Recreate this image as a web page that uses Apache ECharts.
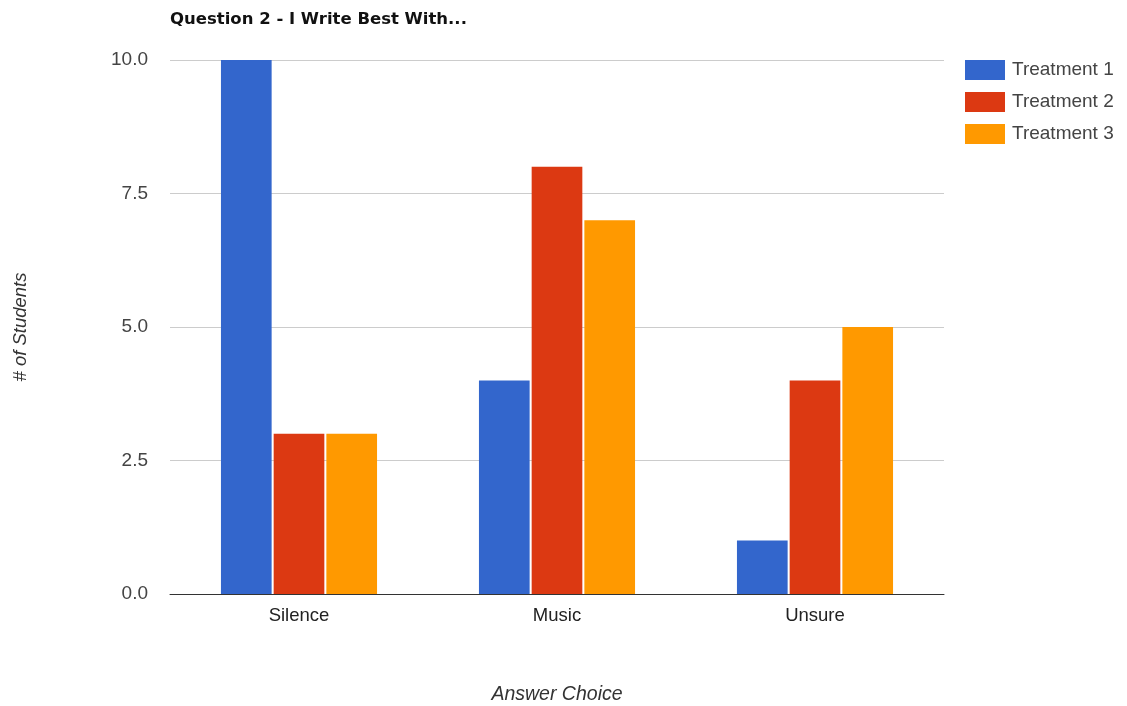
<!DOCTYPE html>
<html>
	<head>
		<meta charset="UTF-8">
		<title>Question 2</title>
		<style type="text/css">
			html,body{
				margin: 0;
				padding: 0;
				background: #fff;
			}
			#main{
				width: 1127px;
				height: 706px;
			}
		</style>
	</head>
	<body>
		<div id="main"></div>
		<script src="https://cdn.jsdelivr.net/npm/echarts@6/dist/echarts.min.js"></script>
		<script type="text/javascript">
			var categories = ['Silence', 'Music', 'Unsure'];
			var treatment1 = [10, 4, 1];
			var treatment2 = [3, 8, 4];
			var treatment3 = [3, 7, 5];
			var seriesNames = ['Treatment 1', 'Treatment 2', 'Treatment 3'];
			var font = 'Arial, "Liberation Sans", sans-serif';

			var myChart = echarts.init(document.getElementById('main'));
			var option = {
				animation: false,
				textStyle: {fontFamily: font},
				color: ['#3366CC', '#DC3912', '#FF9900'],
				title: {
					text: 'Question 2 - I Write Best With...',
					left: 170,
					top: 11,
					padding: 0,
					textStyle: {fontSize: 16.5, fontWeight: 'bold', color: '#111', fontFamily: '"DejaVu Sans", sans-serif'}
				},
				legend: {
					orient: 'vertical',
					left: 965,
					top: 60,
					padding: 0,
					itemWidth: 40,
					itemHeight: 20,
					itemGap: 12,
					icon: 'rect',
					textStyle: {fontSize: 19, color: '#444', fontFamily: font, padding: [3, 0, 0, 2]},
					data: seriesNames
				},
				grid: {
					left: 170,
					right: 183,
					top: 60,
					bottom: 112,
					outerBoundsMode: 'none'
				},
				xAxis: {
					type: 'category',
					data: categories,
					name: 'Answer Choice',
					nameLocation: 'middle',
					nameGap: 91,
					nameTextStyle: {fontSize: 19.5, fontStyle: 'italic', color: '#333'},
					axisTick: {show: false},
					axisLine: {lineStyle: {color: '#333', width: 1}},
					axisLabel: {fontSize: 18.5, color: '#222', margin: 12}
				},
				yAxis: {
					type: 'value',
					min: 0,
					max: 10,
					interval: 2.5,
					name: '# of Students',
					nameLocation: 'middle',
					nameGap: 140,
					nameTextStyle: {fontSize: 18.5, fontStyle: 'italic', color: '#333'},
					axisLine: {show: false},
					axisTick: {show: false},
					splitLine: {lineStyle: {color: '#ccc'}},
					axisLabel: {
						fontSize: 19,
						color: '#444',
						margin: 22,
						formatter: function(v){ return v.toFixed(1); }
					}
				},
				series: [
					{name: seriesNames[0], type: 'bar', data: treatment1, barGap: '4%', barCategoryGap: '39.5%'},
					{name: seriesNames[1], type: 'bar', data: treatment2},
					{name: seriesNames[2], type: 'bar', data: treatment3}
				]
			};
			myChart.setOption(option);
		</script>
	</body>
</html>
